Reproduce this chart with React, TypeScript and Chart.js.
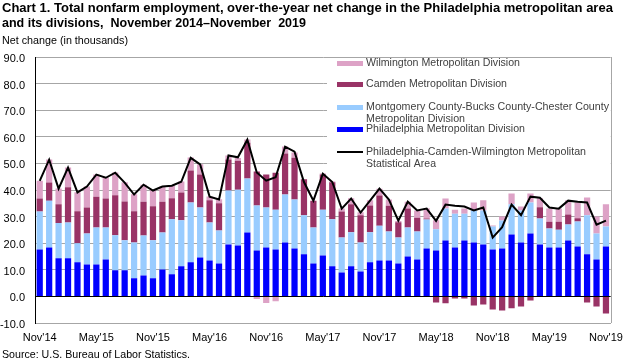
import React, { useEffect, useRef } from 'react';
import { Chart, registerables } from 'chart.js';

Chart.register(...registerables);

const months = [
  "Nov'14", "Dec'14", "Jan'15", "Feb'15", "Mar'15", "Apr'15", "May'15", "Jun'15", "Jul'15", "Aug'15", "Sep'15", "Oct'15",
  "Nov'15", "Dec'15", "Jan'16", "Feb'16", "Mar'16", "Apr'16", "May'16", "Jun'16", "Jul'16", "Aug'16", "Sep'16", "Oct'16",
  "Nov'16", "Dec'16", "Jan'17", "Feb'17", "Mar'17", "Apr'17", "May'17", "Jun'17", "Jul'17", "Aug'17", "Sep'17", "Oct'17",
  "Nov'17", "Dec'17", "Jan'18", "Feb'18", "Mar'18", "Apr'18", "May'18", "Jun'18", "Jul'18", "Aug'18", "Sep'18", "Oct'18",
  "Nov'18", "Dec'18", "Jan'19", "Feb'19", "Mar'19", "Apr'19", "May'19", "Jun'19", "Jul'19", "Aug'19", "Sep'19", "Oct'19",
  "Nov'19",
];

const philadelphia = [
  17.6, 18.4, 14.3, 14.3, 12.8, 12.0, 12.0, 13.9, 9.8, 9.8,
  6.8, 7.9, 6.8, 10.1, 8.3, 11.3, 12.8, 14.6, 13.5, 12.4,
  19.5, 19.1, 24.0, 17.3, 18.4, 17.6, 20.3, 18.0, 15.8, 12.4,
  15.4, 11.3, 9.0, 11.3, 9.4, 12.8, 13.5, 13.5, 12.4, 15.0,
  13.9, 18.0, 17.3, 21.0, 18.4, 21.0, 20.3, 19.5, 17.6, 18.0,
  23.3, 20.3, 23.6, 19.5, 18.4, 18.4, 21.0, 18.8, 15.8, 13.9,
  18.8,
];

const montgomery = [
  14.3, 17.6, 13.3, 13.5, 7.2, 11.6, 13.9, 12.0, 13.2, 11.3,
  13.5, 15.0, 14.3, 13.9, 20.7, 17.3, 22.5, 18.8, 14.3, 12.4,
  20.3, 21.0, 20.3, 16.9, 15.0, 15.0, 18.0, 18.4, 14.7, 13.5,
  17.2, 17.7, 13.1, 12.8, 10.9, 11.3, 13.1, 10.9, 9.7, 10.9,
  10.5, 10.9, 7.9, 12.0, 12.7, 10.1, 12.0, 12.8, 8.7, 10.5,
  11.3, 12.0, 11.7, 9.8, 7.1, 6.7, 6.0, 9.4, 14.7, 9.7,
  7.5,
];

const camden = [
  4.9, 6.8, 7.0, 13.2, 12.0, 9.8, 11.6, 10.9, 15.0, 14.6,
  11.7, 12.7, 12.8, 11.6, 7.9, 10.5, 12.0, 12.4, 8.3, 10.2,
  11.7, 10.9, 13.5, 12.8, 12.4, 13.9, 15.4, 15.7, 13.5, 10.1,
  13.2, 13.9, 9.8, 10.5, 10.2, 10.1, 11.3, 9.7, 5.8, 7.1,
  5.2, 0.4, -2.3, -2.6, -0.8, -0.8, -3.4, -3.0, -4.9, -5.3,
  -4.5, -3.8, -1.5, 4.2, 2.6, 3.0, 3.8, 1.2, -2.3, -3.8,
  -6.4,
];

const wilmington = [
  6.7, 8.7, 6.0, 7.5, 7.2, 7.9, 8.3, 7.9, 8.6, 7.2,
  6.4, 6.4, 6.0, 5.7, 4.9, 4.1, 4.9, 3.9, 1.5, 1.5,
  1.5, 1.0, 1.2, -1.0, -2.5, -1.8, 2.7, 2.0, 0.0, 0.0,
  0.4, 0.3, 1.1, 2.3, 1.1, 1.9, 2.6, 2.3, 0.4, 2.6,
  2.7, 3.8, 3.4, 3.8, 1.5, 1.9, 3.0, 3.8, 0.4, 1.5,
  4.1, 1.5, 3.4, 3.4, 4.9, 4.9, 5.3, 6.0, 6.7, 6.4,
  8.3,
];

const msaTotal = [
  43.4, 51.4, 40.5, 48.4, 39.1, 41.3, 45.8, 44.6, 46.5, 42.8,
  38.3, 42.0, 39.8, 41.3, 41.6, 43.1, 52.1, 49.6, 37.5, 36.4,
  53.0, 52.3, 58.9, 46.6, 43.5, 44.8, 56.3, 54.4, 43.0, 36.0,
  46.1, 43.0, 33.0, 36.8, 31.5, 36.0, 40.5, 36.4, 28.5, 35.6,
  32.3, 33.0, 28.4, 34.5, 34.1, 33.8, 32.3, 33.4, 22.1, 26.0,
  34.5, 30.5, 37.5, 37.1, 33.4, 33.0, 36.0, 35.6, 35.3, 27.0,
  28.5,
];

const titleLines = [
  'Chart 1. Total nonfarm employment, over-the-year net change in the Philadelphia metropolitan area',
  'and its divisions,  November 2014\u2013November  2019',
];
const yAxisTitle = 'Net change (in thousands)';
const sourceText = 'Source: U.S. Bureau of Labor Statistics.';

const seriesNames = {
  wilm: 'Wilmington Metropolitan Division',
  camden: 'Camden Metropolitan Division',
  montg: ['Montgomery County-Bucks County-Chester County', 'Metropolitan Division'],
  phila: 'Philadelphia Metropolitan Division',
  msa: ['Philadelphia-Camden-Wilmington Metropolitan', 'Statistical Area'],
};

const COLORS = {
  phila: '#0000FF',
  montg: '#99CCFF',
  camden: '#993366',
  wilm: '#DDA2C6',
  msa: '#000000',
};

const FONT = '"Liberation Sans", Arial, Helvetica, sans-serif';

const overlayPlugin = {
  id: 'overlay',
  beforeDatasetsDraw(chart: any) {
    const { ctx, chartArea } = chart;
    ctx.save();
    // legend background hides gridlines
    ctx.fillStyle = '#ffffff';
    ctx.fillRect(327, chartArea.top + 1, chartArea.right - 327, 171 - chartArea.top);
    // right border
    ctx.strokeStyle = '#A6A6A6';
    ctx.lineWidth = 1;
    ctx.beginPath();
    ctx.moveTo(Math.round(chartArea.right) + 0.5, chartArea.top);
    ctx.lineTo(Math.round(chartArea.right) + 0.5, chartArea.bottom);
    ctx.stroke();
    ctx.restore();
  },
  afterDraw(chart: any) {
    const { ctx } = chart;
    ctx.save();
    ctx.textBaseline = 'middle';
    ctx.textAlign = 'left';
    // title
    ctx.fillStyle = '#000';
    ctx.font = `bold 13px ${FONT}`;
    ctx.fillText(titleLines[0], 2, 8, 623);
    ctx.fillText(titleLines[1], 2, 23, 304);
    // y axis title
    ctx.font = `11px ${FONT}`;
    ctx.fillText(yAxisTitle, 2, 41, 126);
    // source
    ctx.fillText(sourceText, 2, 355, 188);

    // legend
    const sx = 337;
    const sw = 26;
    const tx = 366;
    ctx.font = `11px ${FONT}`;
    ctx.fillStyle = '#404040';
    const box = (color: string, y: number) => {
      ctx.fillStyle = color;
      ctx.fillRect(sx, y - 2, sw, 5);
      ctx.fillStyle = '#404040';
    };
    box(COLORS.wilm, 63);
    ctx.fillText(seriesNames.wilm, tx, 63, 154);
    box(COLORS.camden, 84);
    ctx.fillText(seriesNames.camden, tx, 84, 141);
    box(COLORS.montg, 107);
    ctx.fillText(seriesNames.montg[0], tx, 107, 243);
    ctx.fillText(seriesNames.montg[1], tx, 119, 99);
    box(COLORS.phila, 129);
    ctx.fillText(seriesNames.phila, tx, 129, 159);
    ctx.strokeStyle = COLORS.msa;
    ctx.lineWidth = 2;
    ctx.beginPath();
    ctx.moveTo(sx, 152);
    ctx.lineTo(sx + sw, 152);
    ctx.stroke();
    ctx.fillText(seriesNames.msa[0], tx, 152, 220);
    ctx.fillText(seriesNames.msa[1], tx, 164, 70);
    ctx.restore();
  },
};

export default function App() {
  const canvasRef = useRef<HTMLCanvasElement | null>(null);

  useEffect(() => {
    if (!canvasRef.current) return;
    const barCommon = {
      type: 'bar' as const,
      stack: 'bars',
      order: 2,
      barPercentage: 0.66,
      categoryPercentage: 1.0,
      borderWidth: 0,
    };
    const chart = new Chart(canvasRef.current, {
      type: 'bar',
      data: {
        labels: months,
        datasets: [
          { ...barCommon, label: 'Philadelphia Metropolitan Division', data: philadelphia, backgroundColor: COLORS.phila },
          { ...barCommon, label: 'Montgomery County-Bucks County-Chester County Metropolitan Division', data: montgomery, backgroundColor: COLORS.montg },
          { ...barCommon, label: 'Camden Metropolitan Division', data: camden, backgroundColor: COLORS.camden },
          { ...barCommon, label: 'Wilmington Metropolitan Division', data: wilmington, backgroundColor: COLORS.wilm },
          {
            type: 'line' as const,
            label: 'Philadelphia-Camden-Wilmington Metropolitan Statistical Area',
            data: msaTotal,
            stack: 'line',
            order: 0,
            borderColor: COLORS.msa,
            backgroundColor: COLORS.msa,
            borderWidth: 2,
            pointRadius: 0,
            tension: 0,
            fill: false,
          } as any,
        ],
      },
      options: {
        responsive: false,
        animation: false,
        devicePixelRatio: 1,
        layout: { padding: { top: 57, right: 12, bottom: 16, left: 0 } },
        plugins: {
          legend: { display: false },
          title: { display: false },
          tooltip: { enabled: false },
        },
        scales: {
          x: {
            stacked: true,
            offset: true,
            grid: { display: false, drawTicks: false },
            border: { display: true, color: '#A6A6A6', width: 1 },
            ticks: {
              autoSkip: false,
              maxRotation: 0,
              minRotation: 0,
              padding: 8,
              color: '#000',
              font: { family: FONT, size: 11 },
              callback: (_v: any, i: number) => (i % 6 === 0 ? months[i] : ''),
            },
            afterFit: (scale: any) => {
              scale.height = 22;
            },
          },
          y: {
            stacked: true,
            min: -10,
            max: 90,
            ticks: {
              stepSize: 10,
              padding: 10,
              labelOffset: 2,
              color: '#000',
              font: { family: FONT, size: 11 },
              callback: (v: any) => Number(v).toFixed(1),
            },
            grid: {
              drawTicks: false,
              color: (c: any) => (c.tick && c.tick.value === 0 ? '#000000' : '#A6A6A6'),
              lineWidth: 1,
            },
            border: { display: true, color: '#000', width: 1 },
            afterFit: (scale: any) => {
              scale.width = 35;
            },
          },
        },
      },
      plugins: [overlayPlugin],
    });
    return () => chart.destroy();
  }, []);

  return (
    <div style={{ position: 'fixed', left: 0, top: 0, width: 631, height: 361, background: '#fff' }}>
      <canvas ref={canvasRef} width={631} height={361} />
    </div>
  );
}
